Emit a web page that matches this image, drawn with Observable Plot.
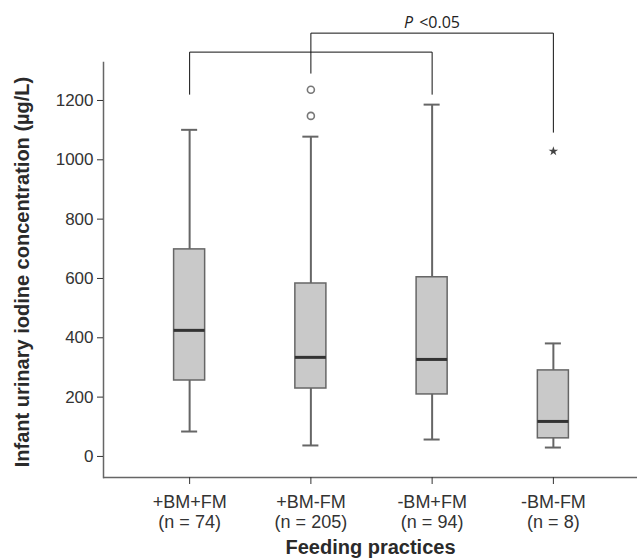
<!DOCTYPE html>
<html>
<head>
<meta charset="utf-8">
<script src="https://cdn.jsdelivr.net/npm/d3@7"></script>
<script src="https://cdn.jsdelivr.net/npm/@observablehq/plot@0.6"></script>
<style>
  body { margin: 0; background: #fff; }
</style>
</head>
<body>
<div id="chart"></div>
<script>
// Categories and sample sizes
const categories = ["+BM+FM", "+BM-FM", "-BM+FM", "-BM-FM"];
const counts = [74, 205, 94, 8];

// Box plot statistics (µg/L)
const whiskerLow = [84, 37, 57, 30];
const q1 = [256, 229, 209, 61];
const median = [425, 334, 327, 118];
const q3 = [698, 583, 604, 290];
const whiskerHigh = [1101, 1078, 1186, 381];

// Outliers (circles) and extreme values (stars)
const outlierCat = ["+BM-FM", "+BM-FM"];
const outlierVal = [1236, 1148];
const extremeCat = ["-BM-FM"];
const extremeVal = [1029];

// Y axis ticks
const yTicks = [0, 200, 400, 600, 800, 1000, 1200];

// Significance brackets (value levels in µg/L)
const bracketFrom = ["+BM+FM", "+BM-FM"];
const bracketTo = ["-BM+FM", "-BM-FM"];
const bracketTop = [1363, 1427];
const bracketFromEnd = [1221, 1292];
const bracketToEnd = [1221, 1093];
const pLabelCat = "-BM+FM";
const pLabelVal = 1462;
const pLabelItalic = "P";
const pLabelRest = "<0.05";

const yLabel = "Infant urinary iodine concentration (µg/L)";
const xLabel = "Feeding practices";

const rows = categories.map((c, i) => ({
  cat: c, lo: whiskerLow[i], q1: q1[i], med: median[i], q3: q3[i], hi: whiskerHigh[i]
}));
const outliers = outlierCat.map((c, i) => ({cat: c, v: outlierVal[i]}));
const extremes = extremeCat.map((c, i) => ({cat: c, v: extremeVal[i]}));
const bracketPts = [];
bracketFrom.forEach((f, i) => {
  bracketPts.push({id: i, cat: f, v: bracketFromEnd[i]});
  bracketPts.push({id: i, cat: f, v: bracketTop[i]});
  bracketPts.push({id: i, cat: bracketTo[i], v: bracketTop[i]});
  bracketPts.push({id: i, cat: bracketTo[i], v: bracketToEnd[i]});
});

const boxStroke = "#666";

const chart = Plot.plot({
  width: 638,
  height: 560,
  marginTop: 62,
  marginBottom: 83,
  marginLeft: 103,
  marginRight: 1,
  style: {fontFamily: "'Liberation Sans', Arial, sans-serif", background: "#fff", overflow: "visible"},
  x: {domain: categories, range: [128.5, 613.5], paddingInner: 0.744, paddingOuter: 0.372, round: false},
  y: {domain: [-71, 1328]},
  marks: [
    Plot.ruleY([-71], {stroke: "#666", strokeWidth: 1.5}),
    Plot.frame({anchor: "left", stroke: "#666", strokeWidth: 1.5}),
    Plot.axisY({ticks: yTicks, tickSize: 6, tickPadding: 4, fontSize: 17, color: "#333", label: null, tickFormat: (d) => String(d)}),
    Plot.axisX({
      tickSize: 7, tickPadding: 9, fontSize: 18, color: "#333", label: null, lineHeight: 1.12,
      tickFormat: (d) => `${d}\n(n = ${counts[categories.indexOf(d)]})`
    }),
    Plot.text([yLabel], {frameAnchor: "left", textAnchor: "middle", rotate: -90, dx: -81, dy: 2, fontSize: 20, fontWeight: "bold", fill: "#2a2a2a"}),
    Plot.text([xLabel], {frameAnchor: "bottom", dy: 76, fontSize: 20, fontWeight: "bold", fill: "#2a2a2a"}),
    // whiskers
    Plot.ruleX(rows, {x: "cat", y1: "lo", y2: "hi", stroke: boxStroke, strokeWidth: 2}),
    Plot.tickY(rows, {x: "cat", y: "lo", insetLeft: 7.5, insetRight: 7.5, stroke: boxStroke, strokeWidth: 2}),
    Plot.tickY(rows, {x: "cat", y: "hi", insetLeft: 7.5, insetRight: 7.5, stroke: boxStroke, strokeWidth: 2}),
    // boxes
    Plot.barY(rows, {x: "cat", y1: "q1", y2: "q3", fill: "#c9c9c9", stroke: boxStroke, strokeWidth: 1.5}),
    Plot.tickY(rows, {x: "cat", y: "med", stroke: "#333", strokeWidth: 3}),
    // outliers
    Plot.dot(outliers, {x: "cat", y: "v", r: 3.5, stroke: "#777", strokeWidth: 1.6, fill: "#fff"}),
    Plot.dot(extremes, {x: "cat", y: "v", r: 3, symbol: "star", fill: "#444"}),
    // significance brackets
    Plot.line(bracketPts, {x: "cat", y: "v", z: "id", stroke: "#111", strokeWidth: 1}),
    Plot.text([pLabelItalic], {x: () => pLabelCat, y: () => pLabelVal, textAnchor: "end", dx: -19, fontSize: 16, fontStyle: "italic", fontFamily: "'Open Sans', sans-serif", fill: "#222"}),
    Plot.text([pLabelRest], {x: () => pLabelCat, y: () => pLabelVal, textAnchor: "start", dx: -13, fontSize: 16, fontFamily: "'Open Sans', sans-serif", fill: "#222"})
  ]
});
document.getElementById("chart").appendChild(chart);
</script>
</body>
</html>
